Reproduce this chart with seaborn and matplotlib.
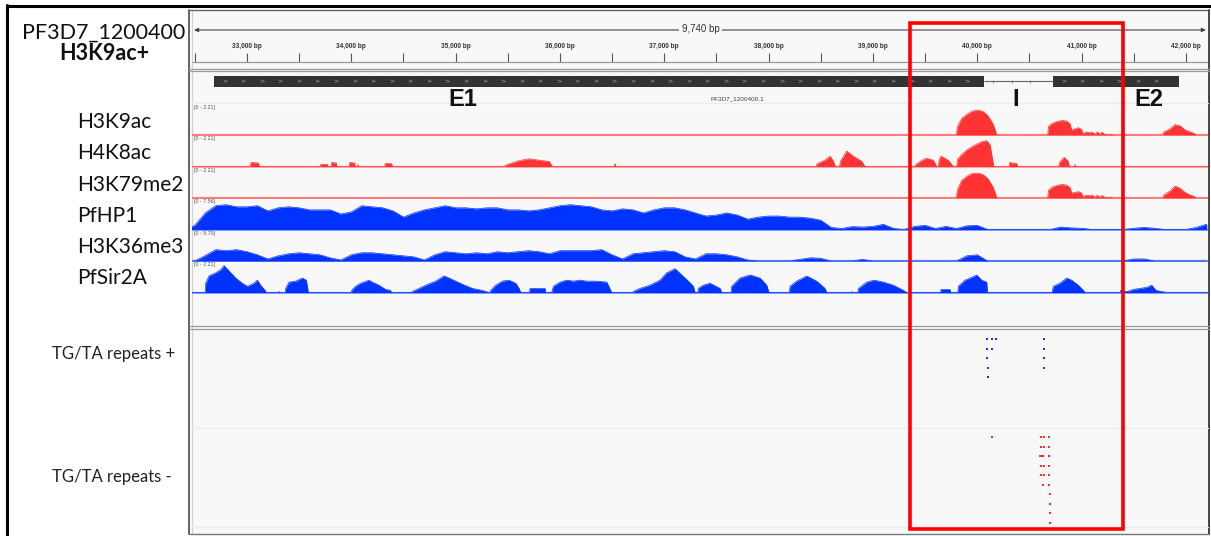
import numpy as np
import matplotlib
matplotlib.use("Agg")
import matplotlib.pyplot as plt
import seaborn as sns
from matplotlib.patches import Rectangle

# ------------------------------------------------------------------ data
W, H = 1211, 536

VIEW_START, VIEW_END = 32473, 42212

TRACKS = ["H3K9ac", "H4K8ac", "H3K79me2", "PfHP1", "H3K36me3", "PfSir2A"]
TRACK_MAX = [2.21, 2.21, 2.21, 7.56, 5.70, 2.21]
TRACK_RANGE = ["[0 - 2.21]", "[0 - 2.21]", "[0 - 2.21]", "[0 - 7.56]", "[0 - 5.70]", "[0 - 2.21]"]
TRACK_KIND = ["red", "red", "red", "blue", "blue", "blue"]

# sparse coverage profiles: (position bp, value)
H3K9AC = [(32473, 0),
          (39800, 0), (39808, 0.55), (39850, 1.18), (39900, 1.47), (39950, 1.70), (40000, 1.77),
          (40050, 1.70), (40100, 1.40), (40150, 0.81), (40175, 0.3), (40185, 0),
          (40675, 0), (40683, 0.6), (40713, 0.8), (40761, 0.96), (40809, 1.03), (40857, 1.0),
          (40889, 0.8), (40905, 0.35), (40937, 0.45), (40969, 0.52), (41000, 0.4), (41010, 0.1),
          (41049, 0.22), (41080, 0.15), (41100, 0.22), (41130, 0.05), (41150, 0.22), (41180, 0.05),
          (41195, 0.2), (41225, 0.05), (41289, 0.05), (41295, 0),
          (41780, 0), (41786, 0.2), (41848, 0.44), (41896, 0.74), (41944, 0.66), (41992, 0.37),
          (42040, 0.22), (42085, 0.1), (42090, 0), (42212, 0)]
H4K8AC = [(32473, 0),
          (33030, 0), (33040, 0.29), (33110, 0.25), (33118, 0),
          (33700, 0), (33706, 0.15), (33770, 0.15), (33775, 0),
          (33808, 0), (33812, 0.29), (33856, 0.25), (33860, 0),
          (33980, 0), (33984, 0.29), (34032, 0.25), (34036, 0),
          (34060, 0), (34064, 0.15), (34070, 0),
          (34320, 0), (34325, 0.22), (34387, 0.2), (34392, 0),
          (35460, 0), (35500, 0.15), (35600, 0.4), (35700, 0.55), (35800, 0.45), (35900, 0.35), (35925, 0),
          (36520, 0), (36528, 0.2), (36536, 0),
          (38455, 0), (38465, 0.2), (38540, 0.45), (38589, 0.74), (38620, 0.4), (38640, 0),
          (38680, 0), (38690, 0.4), (38749, 1.1), (38812, 0.74), (38893, 0.37), (38924, 0),
          (39405, 0), (39412, 0.15), (39470, 0.45), (39515, 0.59), (39580, 0.45), (39611, 0),
          (39627, 0), (39635, 0.5), (39653, 0.74), (39723, 0.45), (39771, 0),
          (39803, 0), (39810, 0.5), (39835, 0.74), (39899, 1.18), (39963, 1.47), (40043, 1.77),
          (40091, 1.84), (40123, 1.55), (40148, 0.44), (40160, 0),
          (40305, 0), (40310, 0.29), (40380, 0.2), (40385, 0),
          (40780, 0), (40790, 0.3), (40832, 0.66), (40870, 0.4), (40883, 0),
          (40932, 0), (40937, 0.15), (40942, 0),
          (42212, 0)]
H3K79ME2 = [(32473, 0),
            (39800, 0), (39808, 0.55), (39850, 1.25), (39900, 1.55), (39950, 1.75), (40000, 1.77),
            (40050, 1.70), (40100, 1.40), (40150, 0.81), (40175, 0.3), (40185, 0),
            (40675, 0), (40683, 0.55), (40713, 0.75), (40761, 0.9), (40809, 0.96), (40857, 0.92),
            (40889, 0.75), (40905, 0.35), (40937, 0.4), (40969, 0.45), (41000, 0.37), (41010, 0.1),
            (41049, 0.2), (41080, 0.15), (41100, 0.22), (41130, 0.05), (41150, 0.2), (41180, 0.05),
            (41195, 0.18), (41225, 0.05), (41289, 0.05), (41295, 0),
            (41780, 0), (41786, 0.2), (41848, 0.5), (41896, 0.85), (41944, 0.7), (41992, 0.4),
            (42040, 0.22), (42085, 0.1), (42090, 0), (42212, 0)]
PFSIR2A = [(32473, 0),
           (32600, 0), (32604, 0.66), (32636, 1.18), (32700, 1.4), (32748, 1.62), (32780, 1.92),
           (32827, 1.55), (32892, 1.03), (32955, 0.66), (33003, 0.44), (33067, 0.66), (33099, 0.88),
           (33131, 0.52), (33173, 0.15), (33185, 0),
           (33300, 0), (33307, 0.07), (33314, 0),
           (33367, 0), (33371, 0.29), (33403, 0.74), (33467, 0.81), (33531, 1.03), (33569, 0.88), (33588, 0),
           (33999, 0), (34003, 0.15), (34041, 0.44), (34089, 0.66), (34169, 0.88), (34201, 0.74),
           (34265, 0.52), (34329, 0.22), (34377, 0.15), (34383, 0),
           (34580, 0), (34585, 0.07), (34649, 0.29), (34713, 0.52), (34809, 0.81), (34889, 1.18),
           (34937, 1.03), (35001, 0.81), (35065, 0.59), (35161, 0.29), (35256, 0.15), (35320, 0),
           (35330, 0), (35336, 0.15), (35384, 0.52), (35448, 0.81), (35512, 0.88), (35576, 0.66),
           (35608, 0.29), (35624, 0),
           (35708, 0), (35713, 0.29), (35857, 0.29), (35862, 0),
           (35921, 0), (35937, 0.44), (36001, 0.74), (36065, 0.88), (36129, 0.81), (36193, 0.88),
           (36257, 0.81), (36353, 0.81), (36449, 0.74), (36496, 0),
           (36700, 0), (36703, 0.07), (36767, 0.29), (36863, 0.52), (36959, 0.88), (37023, 1.4),
           (37103, 1.7), (37167, 1.25), (37231, 0.81), (37279, 0.44), (37295, 0),
           (37322, 0), (37327, 0.3), (37375, 0.52), (37439, 0.66), (37535, 0.29), (37551, 0),
           (37641, 0), (37646, 0.44), (37726, 1.03), (37822, 1.25), (37918, 1.03), (37982, 0.52), (38004, 0),
           (38200, 0), (38205, 0.44), (38269, 0.81), (38365, 1.18), (38461, 0.81), (38541, 0.29), (38557, 0),
           (38790, 0), (38796, 0.07), (38802, 0),
           (38856, 0), (38861, 0.29), (38941, 0.74), (39010, 0.88), (39100, 0.74), (39196, 0.52),
           (39292, 0.15), (39324, 0),
           (39648, 0), (39653, 0.22), (39739, 0.22), (39744, 0),
           (39814, 0), (39819, 0.44), (39883, 0.88), (39931, 1.03), (39995, 1.25), (40043, 0.88),
           (40091, 0.74), (40097, 0),
           (40718, 0), (40729, 0.44), (40793, 0.66), (40857, 1.03), (40905, 0.88), (40969, 0.52),
           (41017, 0.15), (41033, 0),
           (41370, 0), (41375, 0.15), (41436, 0.07), (41497, 0.22), (41561, 0.29), (41625, 0.37),
           (41673, 0.52), (41714, 0.15), (41769, 0.07), (41816, 0),
           (42212, 0)]

# dense coverage profiles sampled every 100 bp from 32400 bp
GRID_START, GRID_STEP = 32400, 100
PFHP1 = [0, 1.01, 4.03, 5.80, 6.05, 5.54, 5.54, 5.80, 4.54, 5.29,
         5.54, 5.29, 4.79, 4.79, 4.79, 3.78, 4.28, 5.80, 5.54, 5.29,
         4.54, 3.02, 4.03, 4.79, 5.29, 5.80, 5.29, 5.29, 5.04, 5.29,
         5.29, 4.79, 4.79, 4.54, 4.79, 5.29, 5.80, 6.05, 5.80, 5.54,
         4.79, 4.54, 5.04, 4.79, 4.03, 4.79, 5.29, 5.29, 4.79, 4.03,
         3.28, 3.53, 4.03, 3.53, 2.52, 3.02, 3.28, 3.28, 3.02, 3.02,
         2.77, 2.27, 0.5, 0.25, 0.7, 0.6, 0.76, 1.26, 0.25, 0,
         0.76, 1.0, 0.25, 0.76, 0.25, 0.9, 1.0, 0, 0, 0,
         0, 0, 0, 0, 0.6, 0.4, 0.3, 0, 0, 0,
         0, 0.3, 0.5, 0.3, 0, 0, 0, 0.5, 1.3]
H3K36ME3 = [0, 0, 1.0, 2.09, 1.90, 2.09, 1.71, 1.14, 0.38, 0.95,
            1.33, 1.52, 1.33, 1.14, 0.57, 0.19, 1.14, 1.52, 1.52, 1.33,
            1.14, 0.95, 0.76, 0.19, 1.14, 1.71, 1.52, 1.33, 1.52, 1.33,
            1.71, 1.52, 1.71, 1.90, 1.71, 1.33, 1.90, 1.90, 1.90, 1.90,
            2.09, 1.14, 0.38, 1.33, 1.52, 1.71, 1.90, 1.71, 0.76, 0.38,
            1.33, 1.33, 1.14, 0.76, 0.19, 0, 0, 0, 0, 0.3,
            0.6, 0.5, 0, 0, 0, 0.3, 0, 0, 0, 0,
            0, 0, 0, 0, 0, 0.95, 1.14, 0, 0, 0,
            0, 0, 0, 0, 0, 0, 0, 0, 0, 0,
            0, 0.38, 0.38, 0, 0, 0, 0, 0, 0]

# gene model (bp)
GENE_NAME = "PF3D7_1200400.1"
EXON_START = [32684, 40726]
EXON_END = [40065, 41934]

# TG/TA repeat features (bp, stacked row)
PLUS_BP = [40092, 40146, 40179, 40640, 40092, 40146, 40640, 40098, 40640, 40101, 40642, 40105]
PLUS_ROW = [0, 0, 0, 0, 1, 1, 1, 2, 2, 3, 3, 4]
MINUS_BP = [40141, 40614, 40637, 40688, 40614, 40637, 40688, 40605, 40620, 40635, 40688,
            40614, 40637, 40690, 40614, 40637, 40690, 40627, 40690, 40695, 40695, 40698, 40700]
MINUS_ROW = [0, 0, 0, 0, 1, 1, 1, 2, 2, 2, 2, 3, 3, 3, 4, 4, 4, 5, 5, 6, 7, 8, 9]

RULER_TICKS = list(range(32500, 42001, 500))
RULER_LABELS = {b: f"{b:,} bp" for b in range(33000, 42001, 1000)}
SPAN_LABEL = "9,740 bp"

TITLE = "PF3D7_1200400"
SUBTITLE = "H3K9ac+"
REGION_LABELS = ["E1", "I", "E2"]
REGION_X = [463, 1016, 1149]
FEATURE_TRACKS = ["TG/TA repeats +", "TG/TA repeats -"]

# ------------------------------------------------------------------ style
sns.set_theme(style="white")
plt.rcParams["font.family"] = ["Lato", "DejaVu Sans"]

RED, RED_BASE = "#ff3333", "#ffa3a3"
BLUE, BLUE_BASE = "#0033ff", "#7f9cff"
PANEL_BG = "#f8f8f8"


def unpack(pairs):
    return np.array([p for p, _ in pairs]), np.array([v for _, v in pairs])


grid = GRID_START + GRID_STEP * np.arange(len(PFHP1))
SIGNALS = [unpack(H3K9AC), unpack(H4K8AC), unpack(H3K79ME2),
           (grid, np.array(PFHP1)), (grid, np.array(H3K36ME3)), unpack(PFSIR2A)]


def rect(x0, y0, x1, y1):
    return [x0 / W, 1 - y1 / H, (x1 - x0) / W, (y1 - y0) / H]


fig = plt.figure(figsize=(W / 100, H / 100), dpi=100)
fig.patch.set_facecolor("white")

# background / frame layer (pixel coordinates)
bg = fig.add_axes([0, 0, 1, 1], zorder=0)
bg.set_xlim(0, W)
bg.set_ylim(H, 0)
bg.axis("off")
bg.add_patch(Rectangle((189, 10), 1020, 524, facecolor=PANEL_BG, edgecolor="none"))
bg.plot([7, 7], [5, 536], color="black", lw=2.2)
bg.plot([7, 1211], [5.5, 5.5], color="black", lw=2.2)
bg.plot([189, 189], [10, 534], color="#555555", lw=1.3)
bg.plot([192, 192], [10, 534], color="#d0d0d0", lw=0.8)
bg.plot([189, 1209], [10, 10], color="#666666", lw=1.0)
bg.plot([1209, 1209], [10, 534], color="#444444", lw=1.4)
bg.plot([189, 1209], [534, 534], color="#777777", lw=1.0)
for yy in (68.5, 71):
    bg.plot([189, 1209], [yy, yy], color="#9a9a9a", lw=0.9)
for yy in (325.5, 328.5):
    bg.plot([189, 1209], [yy, yy], color="#9a9a9a", lw=0.9)
for yy in (103, 428, 527):
    bg.plot([192, 1208], [yy, yy], color="#ebebeb", lw=0.9)

X0, X1 = 192, 1208

# ruler
rax = fig.add_axes(rect(X0, 10, X1, 70), zorder=2)
rax.set_xlim(VIEW_START, VIEW_END)
rax.set_ylim(70, 10)
rax.axis("off")
rax.vlines(RULER_TICKS, 53, 62, color="#555555", lw=0.8)
rax.hlines(62, VIEW_START, VIEW_END, color="#999999", lw=0.9)
for b, lab in RULER_LABELS.items():
    rax.text(b, 47, lab, ha="center", va="center", fontsize=4.7, fontweight="bold",
             family="Liberation Sans", color="#333333")
rax.annotate("", xy=(VIEW_START + 20, 30), xytext=(VIEW_END - 20, 30),
             arrowprops=dict(arrowstyle="<|-|>", color="#444444", lw=0.8, mutation_scale=6,
                             shrinkA=0, shrinkB=0))
rax.text(37350, 29.5, SPAN_LABEL, ha="center", va="center", fontsize=7, color="#333333",
         family="Liberation Sans",
         bbox=dict(facecolor=PANEL_BG, edgecolor="none", pad=2))

# gene track
gax = fig.add_axes(rect(X0, 71, X1, 103), zorder=2)
gax.set_xlim(VIEW_START, VIEW_END)
gax.set_ylim(103, 71)
gax.axis("off")
gax.hlines(81, EXON_END[0], EXON_START[1], color="#666666", lw=0.8)
for b in np.arange(EXON_END[0] + 90, EXON_START[1] - 60, 175):
    gax.vlines(b, 79.5, 82.5, color="#777777", lw=0.6)
for s, e in zip(EXON_START, EXON_END):
    gax.add_patch(Rectangle((s, 76), e - s, 10.5, facecolor="#333333", edgecolor="none"))
    for b in np.arange(s + 100, e - 60, 178):
        gax.text(b, 81, ">", ha="center", va="center", fontsize=4.5, color="#b5b5b5",
                 family="DejaVu Sans")
gax.text(37700, 98.5, GENE_NAME, ha="center", va="center", fontsize=4.6,
         family="Liberation Sans", color="#444444")

# signal tracks
for k, (name, (pos, vals)) in enumerate(zip(TRACKS, SIGNALS)):
    yb = 135 + 31.5 * k
    ax = fig.add_axes(rect(X0, yb - 31, X1, yb + 1.2), zorder=2)
    mx = TRACK_MAX[k]
    ax.set_xlim(VIEW_START, VIEW_END)
    ax.set_ylim(-mx * 1.2 / 31, mx)
    ax.axis("off")
    col, base = (RED, RED_BASE) if TRACK_KIND[k] == "red" else (BLUE, BLUE_BASE)
    ax.axhline(0, color=base, lw=1.6, zorder=1)
    ax.fill_between(pos, 0, vals, color=col, lw=0, zorder=2)
    sns.lineplot(x=pos, y=vals, ax=ax, color=col, lw=0.5, estimator=None, sort=False, zorder=3)
    ax.text(0.002, 0.98, TRACK_RANGE[k], transform=ax.transAxes, ha="left", va="top",
            fontsize=3.8, color="#555555", family="Liberation Sans")

# feature tracks
pax = fig.add_axes(rect(X0, 329, X1, 428), zorder=2)
pax.set_xlim(VIEW_START, VIEW_END)
pax.set_ylim((428 - 339) / 9.55, -(339 - 329) / 9.55)
pax.axis("off")
sns.scatterplot(x=PLUS_BP, y=PLUS_ROW, ax=pax, marker="s", s=4.5, color="#2a2ad6",
                linewidth=0, legend=False)
max_ = fig.add_axes(rect(X0, 428, X1, 527), zorder=2)
max_.set_xlim(VIEW_START, VIEW_END)
max_.set_ylim((527 - 437) / 9.5, -(437 - 428) / 9.5)
max_.axis("off")
sns.scatterplot(x=MINUS_BP, y=MINUS_ROW, ax=max_, marker="s", s=4.5, color="#ff2a2a",
                linewidth=0, legend=False)

# overlay layer: labels and highlight box
top = fig.add_axes([0, 0, 1, 1], zorder=5)
top.set_xlim(0, W)
top.set_ylim(H, 0)
top.axis("off")
top.patch.set_alpha(0)
top.add_patch(Rectangle((910, 23), 213, 506, fill=False, edgecolor="#ff0000", lw=2.6))
for lab, x in zip(REGION_LABELS, REGION_X):
    top.text(x, 100, lab, ha="center", va="center", fontsize=17, fontweight="bold",
             family="Liberation Sans", color="#111111")
top.text(104, 33, TITLE, ha="center", va="center", fontsize=15.5, color="#111111")
top.text(104, 53, SUBTITLE, ha="center", va="center", fontsize=15.5, fontweight="bold",
         color="#111111")
for k, name in enumerate(TRACKS):
    top.text(77, 122 + 31.3 * k, name, ha="left", va="center", fontsize=15, color="#111111")
top.text(52, 354, FEATURE_TRACKS[0], ha="left", va="center", fontsize=12, color="#222222")
top.text(52, 477, FEATURE_TRACKS[1], ha="left", va="center", fontsize=12, color="#222222")

fig.savefig("out.png", dpi=100, facecolor="white")
